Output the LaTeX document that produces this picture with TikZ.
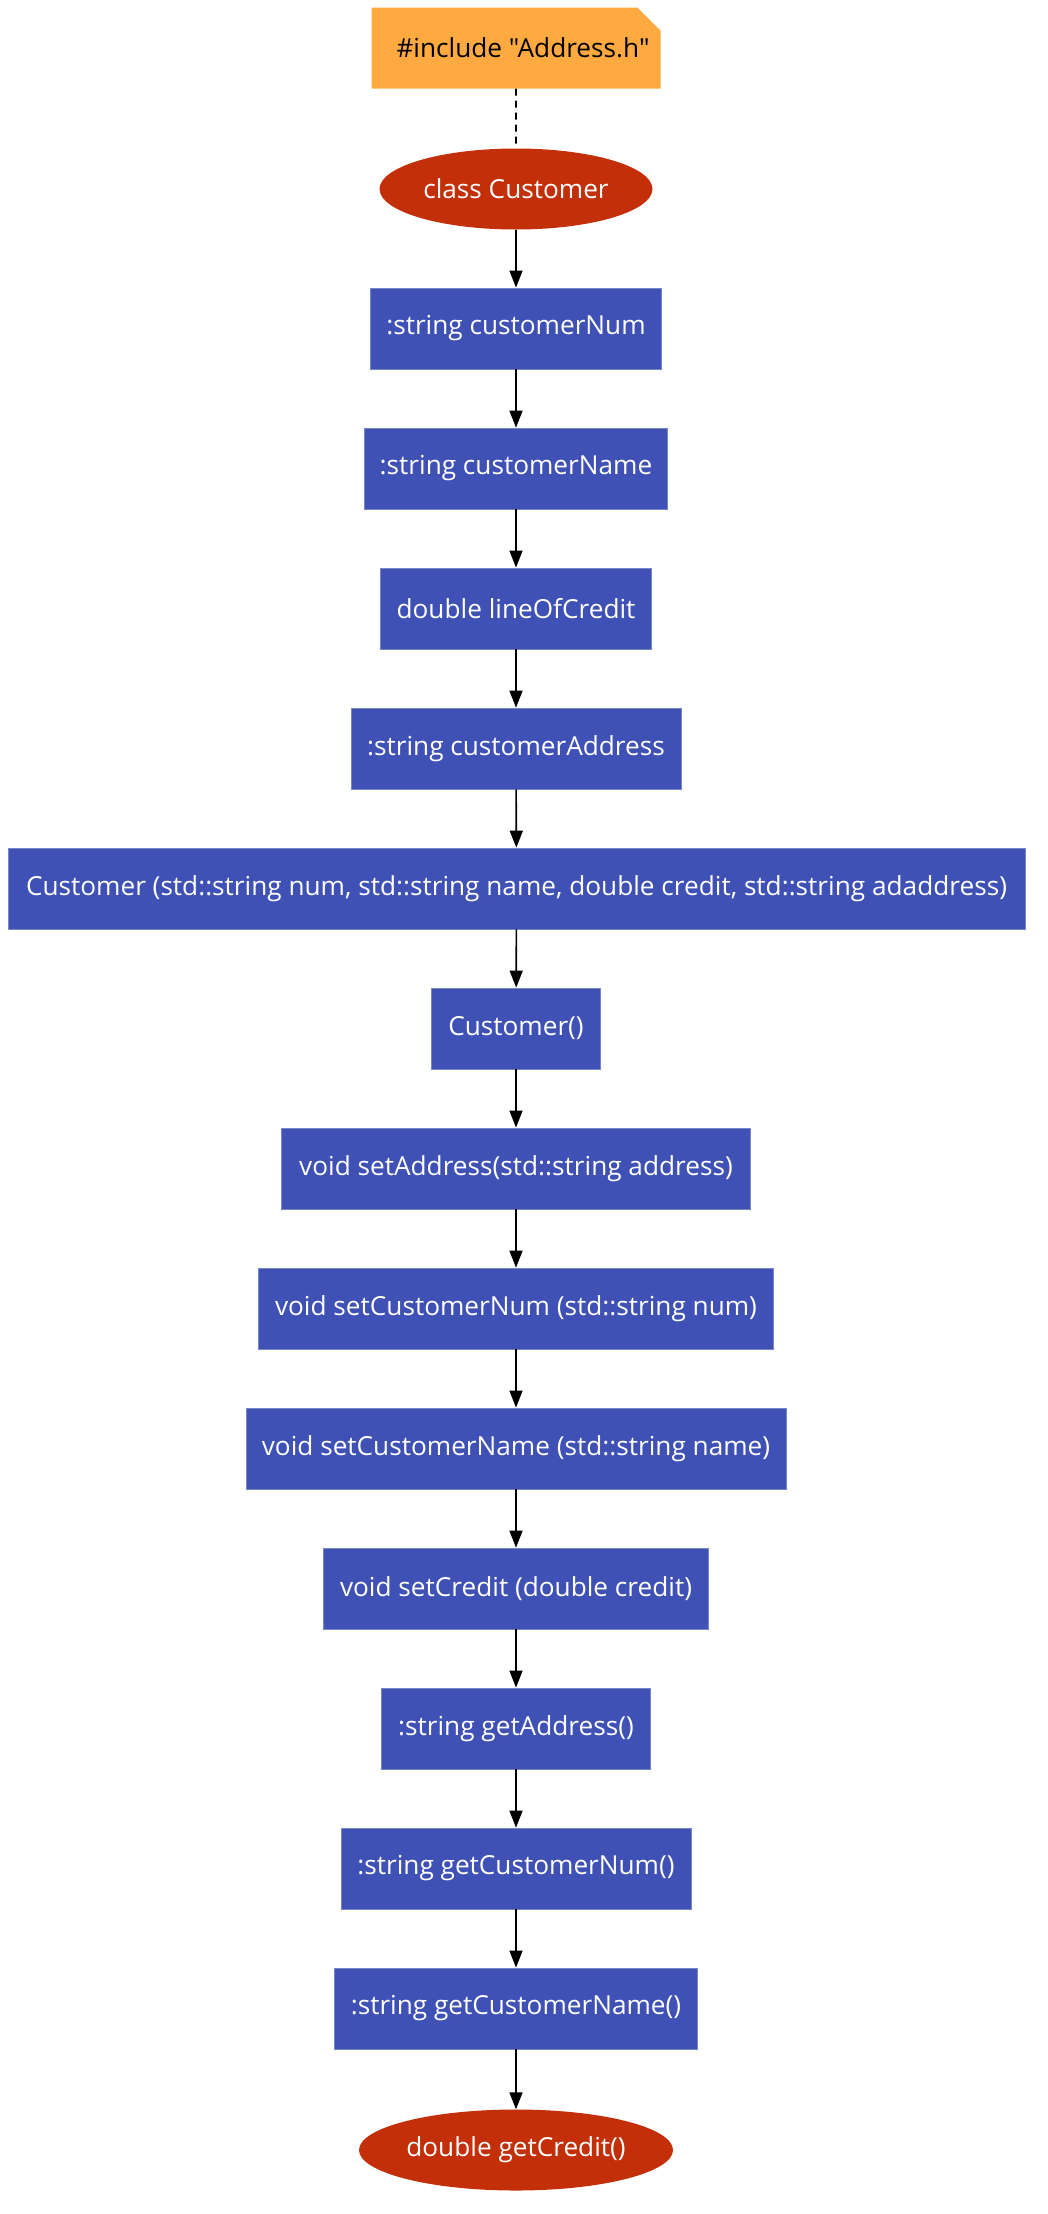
\documentclass[tikz,border=0pt]{standalone}
\usepackage{fontspec}
\setmainfont{Open Sans}
\newfontfamily\notefont{Open Sans}[Ligatures=TeXOff]
\usetikzlibrary{arrows.meta,shapes.geometric,shapes.misc}
\definecolor{boxblue}{HTML}{3F51B5}
\definecolor{boxedge}{HTML}{7986CB}
\definecolor{termred}{HTML}{C32F08}
\definecolor{noteorange}{HTML}{FFAA40}
\begin{document}
\begin{tikzpicture}[x=1pt,y=-1pt,
  every node/.style={font=\fontsize{26.2}{31}\selectfont, inner sep=0pt},
  member/.style={rectangle, fill=boxblue, draw=boxedge, line width=0.8pt,
    text=white, minimum height=81pt},
  term/.style={ellipse, fill=termred, text=white, minimum height=81pt},
  notebox/.style={chamfered rectangle, chamfered rectangle corners=north east,
    chamfered rectangle xsep=13pt, chamfered rectangle ysep=13pt,
    fill=noteorange, text=black, minimum width=289pt, minimum height=81pt},
  flow/.style={-{Triangle[length=17pt,width=13pt]}, line width=1.6pt},
  link/.style={dashed, dash pattern=on 7pt off 5pt, line width=1.6pt}]
\useasboundingbox (0,0) rectangle (1047,2214);

\node[notebox] (inc) at (516,48) {\hspace{14pt}\notefont\#include "Address.h"};
\node[term, minimum width=273pt] (cls) at (516,189) {class Customer};

\node[member, minimum width=291pt] (m1) at (516,328.5) {:string customerNum};
\node[member, minimum width=303pt] (m2) at (516,468.5) {:string customerName};
\node[member, minimum width=271pt] (m3) at (516,608.5) {double lineOfCredit};
\node[member, minimum width=330pt] (m4) at (516,748.5) {:string customerAddress};
\node[member, minimum width=1017pt] (m5) at (516.5,888.5) {Customer (std::string num, std::string name, double credit, std::string adaddress)};
\node[member, minimum width=169pt] (m6) at (516,1028.5) {Customer()};
\node[member, minimum width=469pt] (m7) at (516,1168.5) {void setAddress(std::string address)};
\node[member, minimum width=515pt] (m8) at (516,1308.5) {void setCustomerNum (std::string num)};
\node[member, minimum width=540pt] (m9) at (516,1448.5) {void setCustomerName (std::string name)};
\node[member, minimum width=385pt] (m10) at (516,1588.5) {void setCredit (double credit)};
\node[member, minimum width=269pt] (m11) at (516,1728.5) {:string getAddress()};
\node[member, minimum width=350pt] (m12) at (516,1868.5) {:string getCustomerNum()};
\node[member, minimum width=363pt] (m13) at (516,2008.5) {:string getCustomerName()};
\node[term, minimum width=314pt] (get) at (516,2150) {double getCredit()};

\draw[link] (inc) -- (cls);
\draw[flow] (cls) -- (m1);
\draw[flow] (m1) -- (m2);
\draw[flow] (m2) -- (m3);
\draw[flow] (m3) -- (m4);
\draw[flow] (m4) -- (m5);
\draw[flow] (m5) -- (m6);
\draw[flow] (m6) -- (m7);
\draw[flow] (m7) -- (m8);
\draw[flow] (m8) -- (m9);
\draw[flow] (m9) -- (m10);
\draw[flow] (m10) -- (m11);
\draw[flow] (m11) -- (m12);
\draw[flow] (m12) -- (m13);
\draw[flow] (m13) -- (get);
\end{tikzpicture}
\end{document}
